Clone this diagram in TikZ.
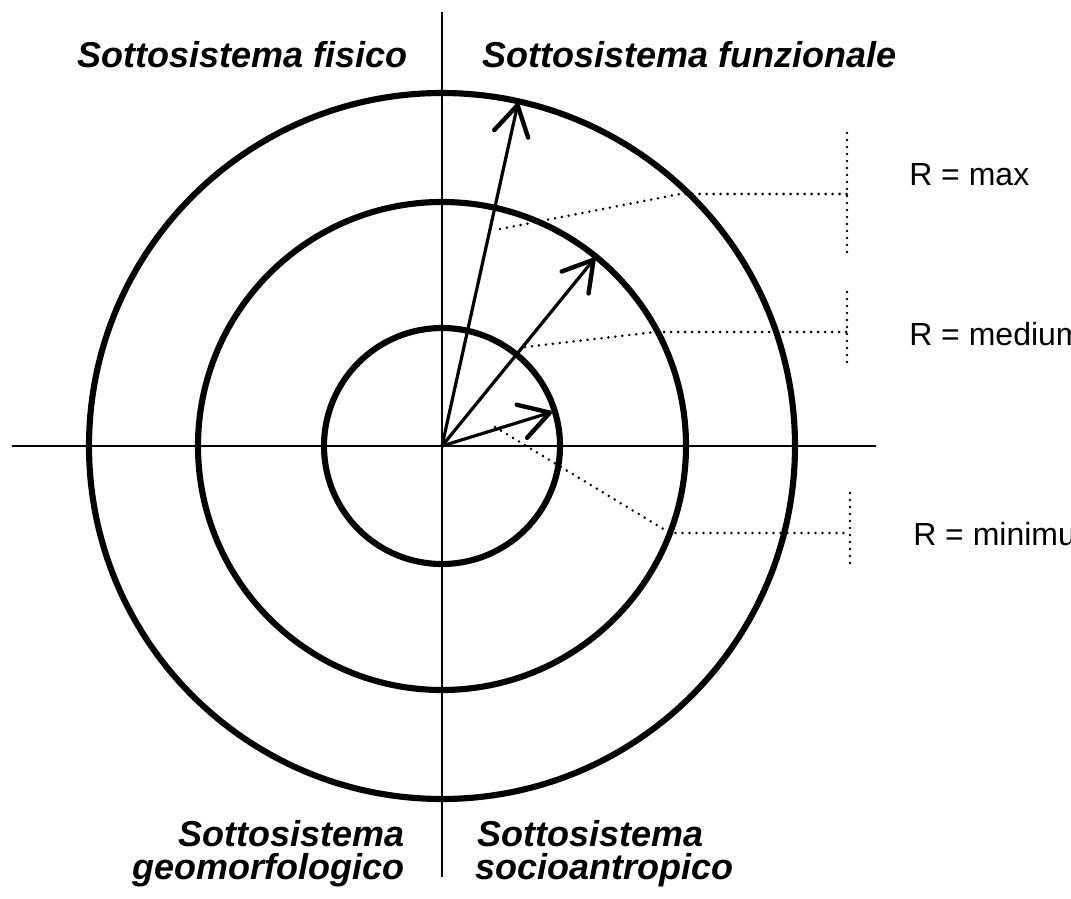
\documentclass[tikz,border=0pt]{standalone}
\usepackage{fontspec}
\setmainfont{Liberation Sans}
\usetikzlibrary{arrows.meta}
\begin{document}
\begin{tikzpicture}[x=0.75pt,y=-0.75pt,
  ring/.style={line width=4.6pt},
  axisline/.style={line width=2pt},
  radarrow/.style={line width=2.4pt, -{Straight Barb[length=22pt,width=26pt,line width=3.3pt,round]}},
  leader/.style={line width=2.1pt, line cap=round, dash pattern=on 0pt off 5.25pt},
  title/.style={font=\fontsize{27}{30}\selectfont\bfseries\itshape, inner sep=0pt},
  rlabel/.style={font=\fontsize{24}{28}\selectfont, inner sep=0pt, anchor=base west}]
\useasboundingbox (0,0) rectangle (1071,899);

% centre and axis ends
\coordinate (O) at (442,446);
\coordinate (N) at (442,12);
\coordinate (S) at (442,877);
\coordinate (W) at (12,446);
\coordinate (E) at (876,446);

% rings
\draw[ring] (O) circle[radius=264.75pt];
\draw[ring] (O) circle[radius=183pt];
\draw[ring] (O) circle[radius=88.5pt];

% axes
\draw[axisline] (N) -- (S);
\draw[axisline] (W) -- (E);

% radius arrows
\coordinate (tmax) at (518,103);
\coordinate (tmed) at (595,258);
\coordinate (tmin) at (552,412);
\draw[radarrow] (O) -- (tmax);
\draw[radarrow] (O) -- (tmed);
\draw[radarrow] (O) -- (tmin);

% leader lines
\coordinate (amax) at (500,229);
\coordinate (kmax) at (680,194);
\coordinate (bmax) at (847,194);
\coordinate (vmax1) at (847,133);
\coordinate (vmax2) at (847,252);
\draw[leader] (amax) -- (kmax) -- (bmax);
\draw[leader] (vmax1) -- (vmax2);

\coordinate (amed) at (525,347);
\coordinate (kmed) at (655,332);
\coordinate (bmed) at (847,332);
\coordinate (vmed1) at (847,292);
\coordinate (vmed2) at (847,363);
\draw[leader] (amed) -- (kmed) -- (bmed);
\draw[leader] (vmed1) -- (vmed2);

\coordinate (amin) at (495,427);
\coordinate (kmin) at (670,533);
\coordinate (bmin) at (850,533);
\coordinate (vmin1) at (850,493);
\coordinate (vmin2) at (850,564);
\draw[leader] (amin) -- (kmin) -- (bmin);
\draw[leader] (vmin1) -- (vmin2);

% labels
\node[rlabel] (lmax) at (909,185) {R = max};
\node[rlabel] (lmed) at (909,345) {R = medium};
\node[rlabel] (lmin) at (913,545) {R = minimum};

\node[title, anchor=base east] (fis) at (408,68) {Sottosistema fisico};
\node[title, anchor=base west] (fun) at (482,68) {Sottosistema funzionale};
\node[title, anchor=base east] (geo1) at (405,846) {Sottosistema};
\node[title, anchor=base east] (geo2) at (405,879) {geomorfologico};
\node[title, anchor=base west] (soc1) at (477,846) {Sottosistema};
\node[title, anchor=base west] (soc2) at (475,879) {socioantropico};
\end{tikzpicture}
\end{document}
